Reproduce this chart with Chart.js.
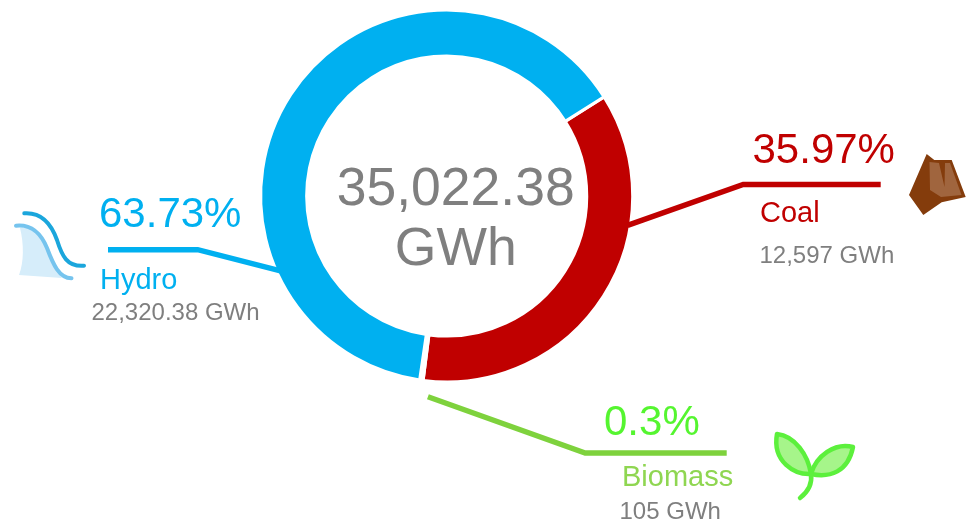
<!DOCTYPE html>
<html>
<head>
<meta charset="utf-8">
<style>
html,body{margin:0;padding:0;background:#fff;}
canvas{display:block;}
</style>
<script src="https://cdn.jsdelivr.net/npm/chart.js@4"></script>
</head>
<body>
<canvas id="c" width="967" height="525"></canvas>
<script>
const categories = ["Coal", "Biomass", "Hydro"];
const energyValues = [12597, 105, 22320.38];
const percentLabels = ["35.97%", "0.3%", "63.73%"];
const energyLabels = ["12,597 GWh", "105 GWh", "22,320.38 GWh"];
const totalLines = ["35,022.38", "GWh"];
const sliceColors = ["#C00000", "#FFFFFF", "#00B0F0"];

const GRAY = "#7F7F7F";
const FONT = '"Liberation Sans", Arial, sans-serif';

/* layout of each callout, in the same order as categories */
const callouts = [
  { t: 0.32, rf: 0.985, elbow: [296.5, -11.5], end: [434, -11.5], color: "#C00000",
    pct: [752.5, 163, "#C00000"], name: [760, 222, "#C00000"], gwh: [759.5, 262.5] },
  { t: -1.8, rf: 1.084, elbow: [138.5, 257], end: [280, 257], color: "#7ED23D",
    pct: [604, 435, "#55F530"], name: [622, 486, "#8FD651"], gwh: [619.5, 519] },
  { t: 0.25, rf: 0.98, elbow: [-249, 53.7], end: [-338.7, 53.7], color: "#00B0F0",
    pct: [99, 227, "#00B0F0"], name: [100, 289, "#00B0F0"], gwh: [91.5, 320] }
];

function drawHydro(ctx) {
  ctx.save();
  ctx.filter = "blur(0.5px)";
  ctx.lineCap = "round";
  ctx.fillStyle = "#D6EDFA";
  ctx.beginPath();
  ctx.moveTo(20, 228);
  ctx.bezierCurveTo(38, 226, 44, 240, 50, 254);
  ctx.bezierCurveTo(53, 264, 57, 272, 62, 278);
  ctx.lineTo(19, 275);
  ctx.bezierCurveTo(24, 262, 24, 244, 20, 228);
  ctx.closePath();
  ctx.fill();
  ctx.strokeStyle = "#76C4EE";
  ctx.lineWidth = 4;
  ctx.beginPath();
  ctx.moveTo(16, 225.7);
  ctx.bezierCurveTo(34, 224, 42, 236, 47, 248);
  ctx.bezierCurveTo(53, 264, 59, 278, 71.5, 278.3);
  ctx.stroke();
  ctx.strokeStyle = "#1BA6DC";
  ctx.beginPath();
  ctx.moveTo(24.3, 213.3);
  ctx.bezierCurveTo(43, 212, 52, 226, 57, 240);
  ctx.bezierCurveTo(62, 256, 67, 267, 84, 265.7);
  ctx.stroke();
  ctx.restore();
}

function drawCoal(ctx) {
  ctx.save();
  ctx.filter = "blur(0.5px)";
  ctx.fillStyle = "#843C0C";
  ctx.beginPath();
  ctx.moveTo(926.7, 154);
  ctx.lineTo(934.3, 160);
  ctx.lineTo(951.7, 160);
  ctx.lineTo(965.7, 197);
  ctx.lineTo(941.7, 202.3);
  ctx.lineTo(923.3, 215);
  ctx.lineTo(909, 195);
  ctx.closePath();
  ctx.fill();
  ctx.fillStyle = "#A0653E";
  ctx.beginPath();
  ctx.moveTo(929.5, 162);
  ctx.lineTo(939, 163);
  ctx.lineTo(944.5, 187);
  ctx.lineTo(945, 163);
  ctx.lineTo(950, 163);
  ctx.lineTo(961.5, 195);
  ctx.lineTo(941, 197);
  ctx.lineTo(930, 190);
  ctx.closePath();
  ctx.fill();
  ctx.restore();
}

function drawSprout(ctx) {
  ctx.save();
  ctx.filter = "blur(0.6px)";
  ctx.strokeStyle = "#5CF03C";
  ctx.fillStyle = "#A6F58A";
  ctx.lineWidth = 4.5;
  ctx.lineCap = "round";
  ctx.lineJoin = "round";
  ctx.beginPath();
  ctx.moveTo(777, 434);
  ctx.bezierCurveTo(795, 436, 808, 455, 811, 474);
  ctx.bezierCurveTo(795, 475, 772, 462, 777, 434);
  ctx.closePath();
  ctx.fill();
  ctx.stroke();
  ctx.beginPath();
  ctx.moveTo(853, 447);
  ctx.bezierCurveTo(835, 442, 816, 456, 811, 474);
  ctx.bezierCurveTo(830, 478, 848, 472, 853, 447);
  ctx.closePath();
  ctx.fill();
  ctx.stroke();
  ctx.beginPath();
  ctx.moveTo(811, 474);
  ctx.quadraticCurveTo(813, 488, 800, 498);
  ctx.stroke();
  ctx.restore();
}

const calloutPlugin = {
  id: "callouts",
  afterDraw(chart) {
    const ctx = chart.ctx;
    const arcs = chart.getDatasetMeta(0).data;
    ctx.save();
    ctx.textBaseline = "alphabetic";
    ctx.textAlign = "left";

    arcs.forEach((arc, i) => {
      const c = callouts[i];
      const ang = arc.startAngle + (arc.endAngle - arc.startAngle) * c.t;
      const r = arc.outerRadius * c.rf;
      ctx.strokeStyle = c.color;
      ctx.lineWidth = 5.5;
      ctx.lineJoin = "miter";
      ctx.lineCap = "butt";
      ctx.beginPath();
      ctx.moveTo(arc.x + Math.cos(ang) * r, arc.y + Math.sin(ang) * r);
      ctx.lineTo(arc.x + c.elbow[0], arc.y + c.elbow[1]);
      ctx.lineTo(arc.x + c.end[0], arc.y + c.end[1]);
      ctx.stroke();

      ctx.font = "42px " + FONT;
      ctx.fillStyle = c.pct[2];
      ctx.fillText(percentLabels[i], c.pct[0], c.pct[1]);
      ctx.font = "29px " + FONT;
      ctx.fillStyle = c.name[2];
      ctx.fillText(categories[i], c.name[0], c.name[1]);
      ctx.font = "24px " + FONT;
      ctx.fillStyle = GRAY;
      ctx.fillText(energyLabels[i], c.gwh[0], c.gwh[1]);
    });

    ctx.fillStyle = GRAY;
    ctx.textAlign = "center";
    ctx.font = "53.5px " + FONT;
    ctx.fillText(totalLines[0], arcs[0].x + 9, 204.5);
    ctx.fillText(totalLines[1], arcs[0].x + 9, 264.5);
    ctx.restore();

    drawHydro(ctx);
    drawCoal(ctx);
    drawSprout(ctx);
  }
};

new Chart(document.getElementById("c"), {
  type: "doughnut",
  data: {
    labels: categories,
    datasets: [{
      data: energyValues,
      backgroundColor: sliceColors,
      borderColor: "#FFFFFF",
      borderWidth: 3,
      hoverOffset: 0
    }]
  },
  options: {
    responsive: false,
    animation: false,
    rotation: 57.8,
    cutout: "75.3%",
    layout: { padding: { left: 259.2, right: 332.8, top: 8.5, bottom: 141.5 } },
    plugins: { legend: { display: false }, tooltip: { enabled: false }, title: { display: false } }
  },
  plugins: [calloutPlugin]
});
</script>
</body>
</html>
